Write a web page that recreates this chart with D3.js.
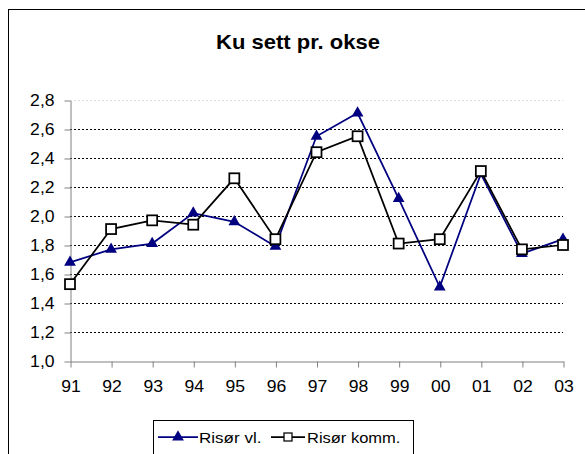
<!DOCTYPE html>
<html>
<head>
<meta charset="utf-8">
<script src="https://cdn.jsdelivr.net/npm/d3@7"></script>
<style>
  body { margin: 0; background: #fff; }
  svg { display: block; font-family: "Liberation Sans", Arial, sans-serif; }
</style>
</head>
<body>
<div id="container"></div>
<script>
"use strict";

const years = ["91", "92", "93", "94", "95", "96", "97", "98", "99", "00", "01", "02", "03"];
const risorVl = [1.68, 1.77, 1.81, 2.02, 1.96, 1.79, 2.55, 2.71, 2.12, 1.51, 2.29, 1.74, 1.84];
const risorKomm = [1.53, 1.91, 1.97, 1.94, 2.26, 1.84, 2.44, 2.55, 1.81, 1.84, 2.31, 1.77, 1.80];
const yTicks = [1.0, 1.2, 1.4, 1.6, 1.8, 2.0, 2.2, 2.4, 2.6, 2.8];

const width = 585;
const height = 454;
const plot = { left: 70, right: 563, top: 100, bottom: 361 };

const vlColor = "#000080";
const kommColor = "#000000";
const axisColor = "#808080";
const stretch = 1.1; // text in the picture is a little wider than the font

const svg = d3
  .select("#container")
  .append("svg")
  .attr("width", width)
  .attr("height", height);

// chart frame (runs past the picture on the right and bottom)
svg
  .append("rect")
  .attr("x", 8.5)
  .attr("y", 9.5)
  .attr("width", 620)
  .attr("height", 480)
  .attr("fill", "#fff")
  .attr("stroke", "#000");

const label = (x, y, str, size, anchor, bold) =>
  svg
    .append("g")
    .attr("transform", `translate(${x}, ${y}) scale(${stretch}, 1)`)
    .append("text")
    .attr("text-anchor", anchor)
    .style("font-size", size + "px")
    .style("font-weight", bold ? "bold" : "normal")
    .text(str);

label(298, 49, "Ku sett pr. okse", 20, "middle", true);

const xScale = d3.scalePoint().domain(years).range([plot.left, plot.right]);
const yScale = d3.scaleLinear().domain([1.0, 2.8]).range([plot.bottom, plot.top]);

// grid lines
svg
  .append("g")
  .selectAll("line")
  .data(yTicks.filter((d) => d > 1.0))
  .enter()
  .append("line")
  .attr("x1", plot.left)
  .attr("x2", plot.right)
  .attr("y1", (d) => Math.round(yScale(d)) + 0.5)
  .attr("y2", (d) => Math.round(yScale(d)) + 0.5)
  .attr("stroke", (d) => (d === 2.8 ? "#dddddd" : "#000"))
  .attr("stroke-dasharray", "2,2");

const fmt = (d) => d3.format(".1f")(d).replace(".", ",");

const yAxis = d3
  .axisLeft(yScale)
  .tickValues(yTicks)
  .tickFormat(fmt)
  .tickSize(6)
  .tickSizeOuter(0)
  .tickPadding(8.5);

const xAxis = d3.axisBottom(xScale).tickSize(6).tickSizeOuter(0).tickPadding(13);

const gy = svg
  .append("g")
  .attr("transform", `translate(${plot.left + 0.5}, 0.5)`)
  .call(yAxis);

const gx = svg
  .append("g")
  .attr("transform", `translate(0.5, ${plot.bottom + 0.5})`)
  .call(xAxis);

[gx, gy].forEach((g) => {
  g.select(".domain").attr("stroke", axisColor);
  g.selectAll(".tick line").attr("stroke", axisColor);
  g.selectAll(".tick text")
    .attr("fill", "#000")
    .attr("transform", `scale(${stretch}, 1)`)
    .style("font-size", "16px")
    .style("font-family", "'Liberation Sans', Arial, sans-serif");
});

const line = d3
  .line()
  .x((d, i) => xScale(years[i]))
  .y((d) => yScale(d));

const triangle = d3.symbol().type(d3.symbolTriangle).size(60);

// Risør vl.
svg
  .append("path")
  .datum(risorVl)
  .attr("d", line)
  .attr("fill", "none")
  .attr("stroke", vlColor)
  .attr("stroke-width", 1.75);

svg
  .append("g")
  .selectAll("path")
  .data(risorVl)
  .enter()
  .append("path")
  .attr("d", triangle)
  .attr("transform", (d, i) => `translate(${xScale(years[i])}, ${yScale(d)})`)
  .attr("fill", vlColor);

// Risør komm.
svg
  .append("path")
  .datum(risorKomm)
  .attr("d", line)
  .attr("fill", "none")
  .attr("stroke", kommColor)
  .attr("stroke-width", 1.75);

svg
  .append("g")
  .selectAll("rect")
  .data(risorKomm)
  .enter()
  .append("rect")
  .attr("x", (d, i) => xScale(years[i]) - 5)
  .attr("y", (d) => yScale(d) - 5)
  .attr("width", 10)
  .attr("height", 10)
  .attr("fill", "#fff")
  .attr("stroke", kommColor)
  .attr("stroke-width", 1.75);

// legend
svg
  .append("rect")
  .attr("x", 153.5)
  .attr("y", 420.5)
  .attr("width", 260)
  .attr("height", 60)
  .attr("fill", "#fff")
  .attr("stroke", "#000");

const legendY = 437;

svg
  .append("line")
  .attr("x1", 158)
  .attr("x2", 198)
  .attr("y1", legendY)
  .attr("y2", legendY)
  .attr("stroke", vlColor)
  .attr("stroke-width", 1.75);

svg
  .append("path")
  .attr("d", triangle)
  .attr("transform", `translate(178, ${legendY})`)
  .attr("fill", vlColor);

label(199, legendY + 6, "Risør vl.", 15.5, "start", false);

svg
  .append("line")
  .attr("x1", 271)
  .attr("x2", 305)
  .attr("y1", legendY)
  .attr("y2", legendY)
  .attr("stroke", kommColor)
  .attr("stroke-width", 1.75);

svg
  .append("rect")
  .attr("x", 284)
  .attr("y", legendY - 4)
  .attr("width", 8)
  .attr("height", 8)
  .attr("fill", "#fff")
  .attr("stroke", kommColor)
  .attr("stroke-width", 1.25);

label(307, legendY + 6, "Risør komm.", 15, "start", false);
</script>
</body>
</html>
